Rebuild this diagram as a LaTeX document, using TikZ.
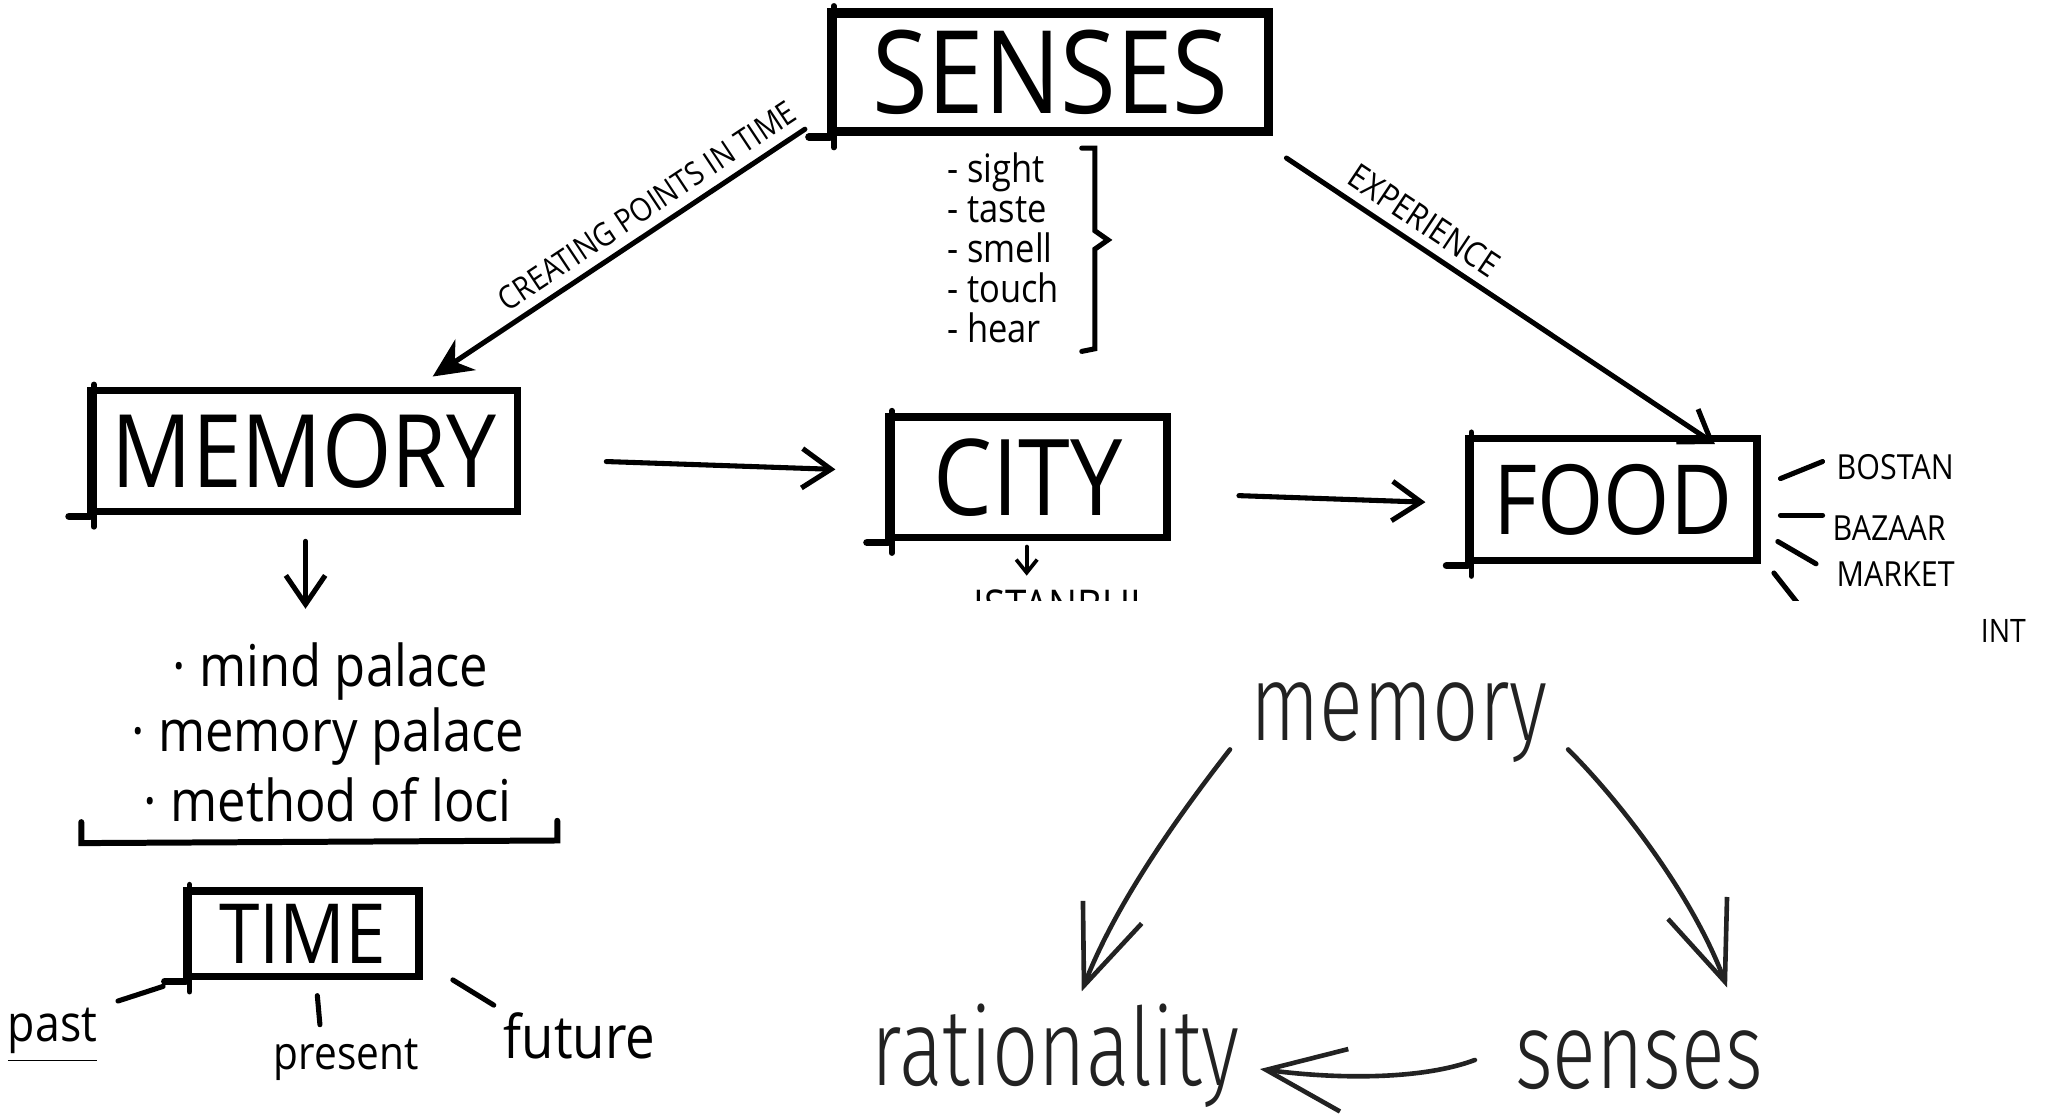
\documentclass[tikz,border=0pt]{standalone}
\usepackage{fontspec}
\usetikzlibrary{arrows.meta,calc}
\newfontfamily\handfont[FakeStretch=0.88]{Open Sans}
\newfontfamily\typefont[FakeStretch=0.75]{Fira Sans Light}
\newcommand{\handsize}[1]{\handfont\fontsize{#1}{#1}\selectfont}
\definecolor{inkgray}{HTML}{222222}

\tikzset{
  sketchbox/.style={draw, line width=1.6pt, inner sep=0pt,
    append after command={
      ($(\tikzlastnode.south west)+(-14,1)$) edge[line width=1.6pt, line cap=round] ($(\tikzlastnode.south west)+(2,1)$)
      ($(\tikzlastnode.south west)+(5,9)$) edge[line width=1.2pt, line cap=round] ($(\tikzlastnode.north west)+(5,-2)$)
    }},
  handline/.style={line width=1.1pt, line cap=round},
  handarrow/.style={handline, -{Straight Barb[length=2.2mm,width=3mm]}},
  handtext/.style={inner sep=0pt},
  typeword/.style={inner sep=0pt, anchor=base, text=inkgray, font=\typefont\fontsize{23.5}{28}\selectfont},
  typearrow/.style={line width=1pt, line cap=round, inkgray, -{Straight Barb[length=6mm,width=4.8mm]}},
}

\begin{document}
\begin{tikzpicture}[x=0.01cm, y=-0.01cm]
  \useasboundingbox (0,0) rectangle (1568,849);

  % Sketch boxes
  \node[sketchbox, line width=2pt, minimum width=3.33cm, minimum height=0.9cm, font=\handsize{25}] (senses) at (801,55) {SENSES};
  \node[sketchbox, minimum width=3.25cm, minimum height=0.92cm, font=\handsize{22}] (memory) at (232,344) {MEMORY};
  \node[sketchbox, minimum width=2.12cm, minimum height=0.92cm, font=\handsize{23}] (city) at (784,364) {CITY};
  \node[sketchbox, minimum width=2.2cm, minimum height=0.93cm, font=\handsize{21}] (food) at (1230,381) {FOOD};

  % The five senses
  \node[handtext, align=left, font=\handfont\fontsize{8.5}{8.7}\selectfont] (senselist) at (765,189) {- sight\\- taste\\- smell\\- touch\\- hear};
  \draw[handline] (825,113) -- (835,113) -- (835,176) -- (845,183) -- (835,190) -- (835,266) -- (825,268);

  % Arrows between the boxes
  \draw[handarrow, -{Stealth[length=3mm,width=2.8mm]}] ($(senses.south west)+(-17,-5)$) -- ($(memory.north)+(98,-8)$)
    node[pos=0.39, sloped, above=2pt, handtext, font=\handsize{7}] {CREATING POINTS IN TIME};
  \draw[handarrow] ($(senses.south east)+(10,17)$) -- ($(food.north east)+(-35,7)$)
    node[pos=0.29, sloped, above=2pt, handtext, font=\handsize{7.5}] {EXPERIENCE};
  \draw[handarrow] ($(memory.east)+(65,8)$) -- ($(city.west)+(-38,-6)$);
  \draw[handarrow] ($(city.east)+(52,14)$) -- ($(food.west)+(-30,2)$);

  % Istanbul, cut off by the white panel
  \begin{scope}
    \clip (0,0) rectangle (1568,458);
    \node[handtext, font=\handsize{9.5}] (istanbul) at (810,462) {ISTANBUL};
    \draw[handline] ($(food.east)+(10,56)$) -- ($(food.east)+(32,84)$);
  \end{scope}
  \coordinate (cityfoot) at ($(city.south)+(-1,4)$);
  \draw[handline, line width=0.8pt, -{Straight Barb[length=1mm,width=1.6mm]}, shorten >=1mm] (cityfoot) -- (cityfoot |- istanbul.north);

  % Food places
  \node[handtext, anchor=west, font=\handsize{7.5}] (bostan) at (1400,356) {BOSTAN};
  \node[handtext, anchor=west, font=\handsize{7.5}] (bazaar) at (1397,403) {BAZAAR};
  \node[handtext, anchor=west, font=\handsize{7.5}] (market) at (1400,438) {MARKET};
  \node[handtext, anchor=west, font=\handsize{7}] (intfrag) at (1510,481) {INT};
  \draw[handline] ($(food.east)+(15,-16)$) -- ($(bostan.west)+(-10,-4)$);
  \draw[handline] ($(food.east)+(15,12)$) -- ($(bazaar.west)+(-7,-10)$);
  \draw[handline] ($(food.east)+(13,32)$) -- ($(market.west)+(-15,-8)$);

  % Memory techniques
  \node[handtext, font=\handsize{12.5}] (mindpal) at (252,512) {· mind palace};
  \node[handtext, font=\handsize{12.5}] (mempal) at (250,562) {· memory palace};
  \node[handtext, font=\handsize{12.5}] (loci) at (250,610) {· method of loci};
  \coordinate (memfoot) at ($(memory.south)+(1,20)$);
  \draw[handarrow, shorten >=2.5mm] (memfoot) -- (memfoot |- mindpal.north);
  \draw[handline, line width=1.3pt] (62,627) -- (62,643) -- (425,641) -- (425,626);

  % Time
  \node[sketchbox, minimum width=1.77cm, minimum height=0.65cm, font=\handsize{18}] (time) at (231,712) {TIME};
  \node[handtext, font=\handsize{11}] (past) at (40,790) {\underline{past}};
  \node[handtext, font=\handsize{10}] (present) at (264,808) {present};
  \node[handtext, font=\handsize{13}] (future) at (442,790) {future};
  \draw[handline, shorten <=1.6mm, shorten >=1.6mm] (time.south west) -- (past.north east);
  \draw[handline] ($(time.south)+(11,12)$) -- ($(present.north)+(-20,-10)$);
  \draw[handline] ($(time.south east)+(23,0)$) -- ($(future.north west)+(-7,-5)$);

  % Typed cycle
  \node[typeword] (memword) at (1067,565) {memory};
  \node[typeword] (ratword) at (805,828) {rationality};
  \node[typeword] (sensword) at (1250,830) {senses};
  \draw[typearrow] ($(memword.south west)+(-15,-11)$) .. controls +(-35,45) and +(27,-70) .. ($(ratword.north)+(20,-9)$);
  \draw[typearrow] ($(memword.south east)+(15,-11)$) .. controls +(40,40) and +(-26,-70) .. ($(sensword.north east)+(-28,-32)$);
  \draw[typearrow] ($(sensword.west)+(-30,0)$) .. controls +(-40,15) and +(60,8) .. ($(ratword.east)+(15,10)$);
\end{tikzpicture}
\end{document}
